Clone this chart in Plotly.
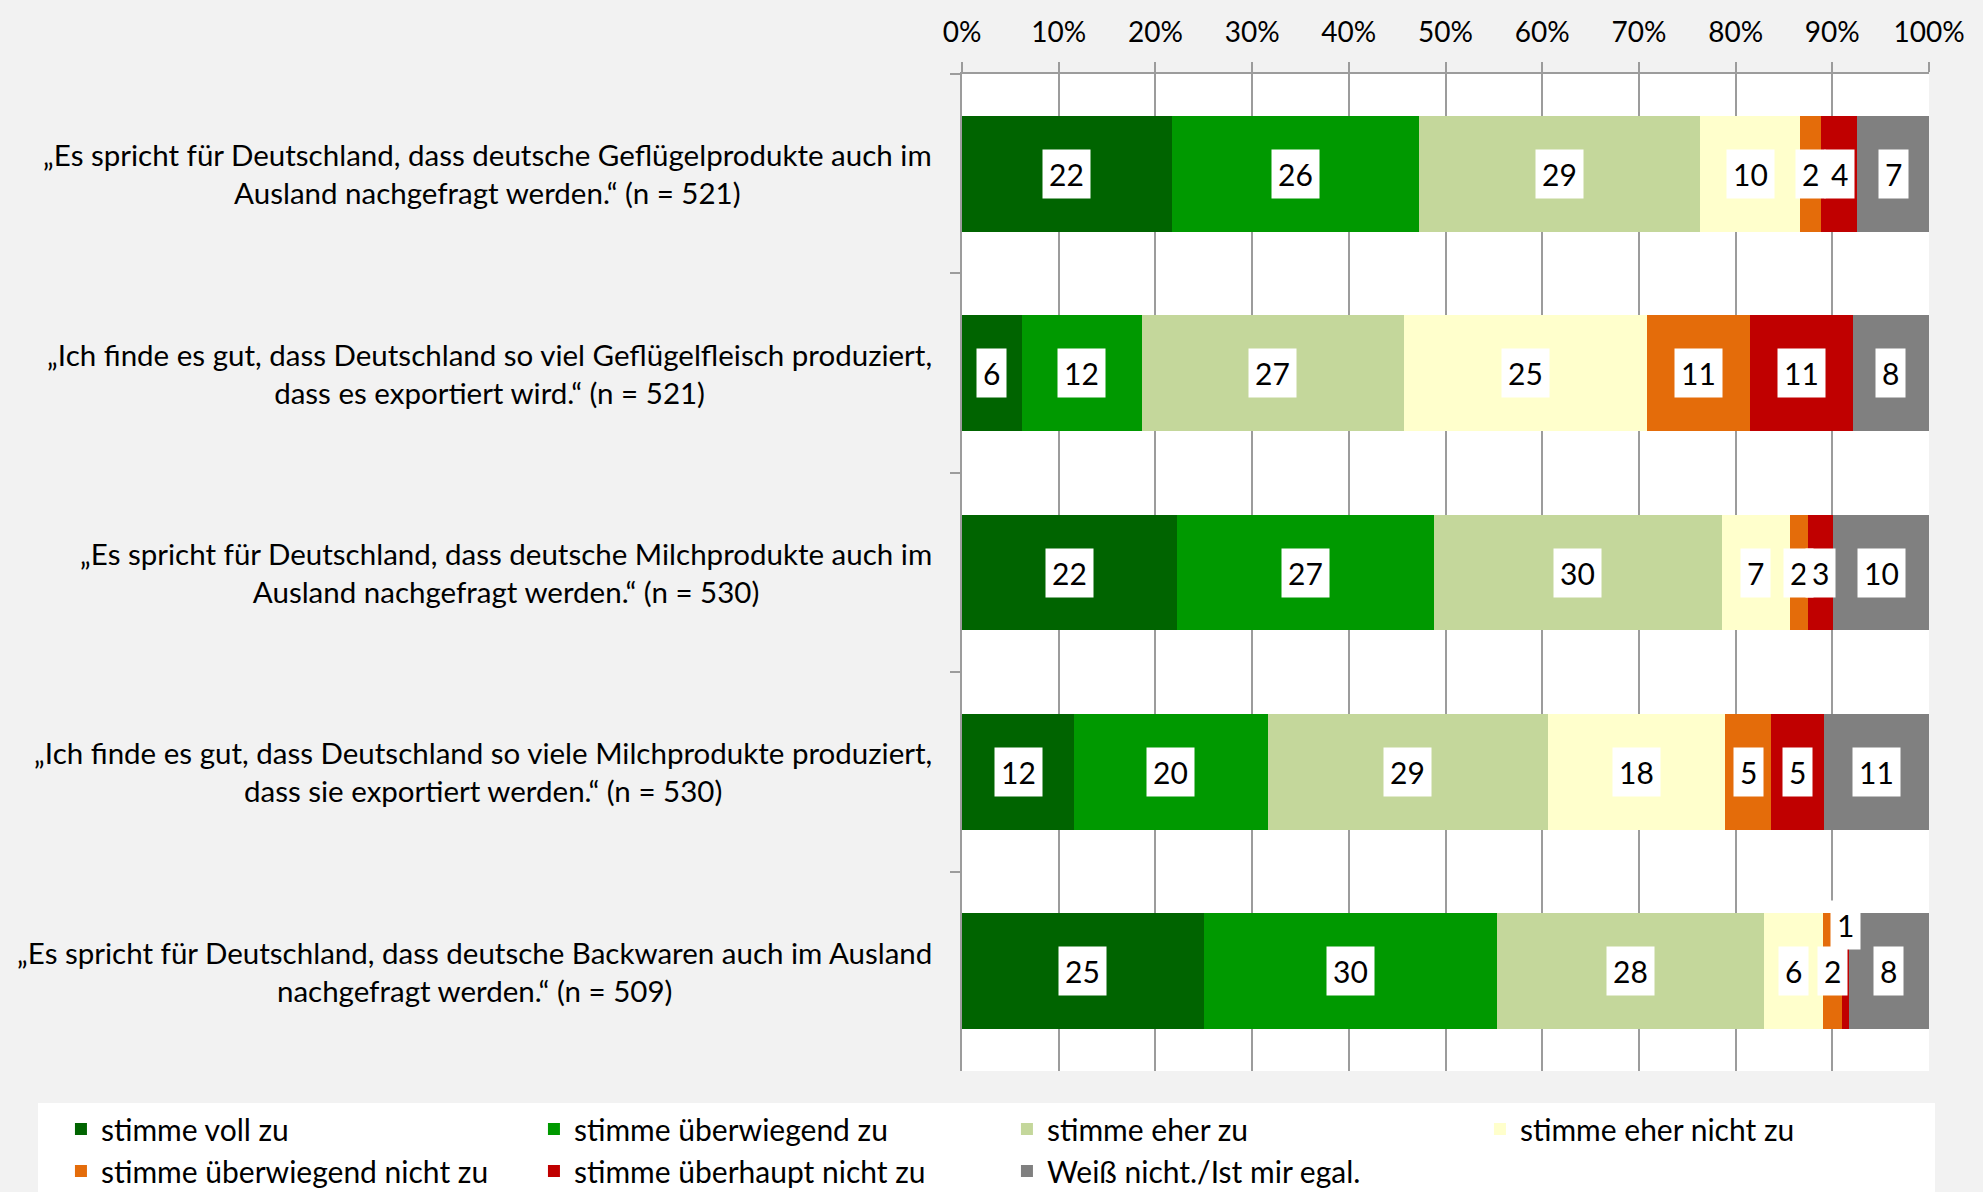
import plotly.graph_objects as go

# ---------------------------------------------------------------------------
# data (shares in %)

statements = [
    "„Es spricht für Deutschland, dass deutsche Geflügelprodukte auch im<br>Ausland nachgefragt werden.“ (n = 521)",
    "„Ich finde es gut, dass Deutschland so viel Geflügelfleisch produziert,<br>dass es exportiert wird.“ (n = 521)",
    "„Es spricht für Deutschland, dass deutsche Milchprodukte auch im<br>Ausland nachgefragt werden.“ (n = 530)",
    "„Ich finde es gut, dass Deutschland so viele Milchprodukte produziert,<br>dass sie exportiert werden.“ (n = 530)",
    "„Es spricht für Deutschland, dass deutsche Backwaren auch im Ausland<br>nachgefragt werden.“ (n = 509)",
]

voll_zu            = [21.7, 6.2, 22.2, 11.6, 25.0]
ueberwiegend_zu    = [25.6, 12.4, 26.6, 20.0, 30.3]
eher_zu            = [29.0, 27.1, 29.8, 29.0, 27.6]
eher_nicht_zu      = [10.4, 25.1, 7.0, 18.3, 6.1]
ueberw_nicht_zu    = [2.1, 10.7, 1.9, 4.8, 2.0]
ueberhaupt_nicht   = [3.8, 10.6, 2.6, 5.4, 0.7]
weiss_nicht        = [7.4, 7.9, 9.9, 10.9, 8.3]

series_names = [
    "stimme voll zu",
    "stimme überwiegend zu",
    "stimme eher zu",
    "stimme eher nicht zu",
    "stimme überwiegend nicht zu",
    "stimme überhaupt nicht zu",
    "Weiß nicht./Ist mir egal.",
]
series_values = [voll_zu, ueberwiegend_zu, eher_zu, eher_nicht_zu,
                 ueberw_nicht_zu, ueberhaupt_nicht, weiss_nicht]
series_colors = ["#006400", "#009900", "#C4D79B", "#FFFFCC",
                 "#E46C0A", "#C00000", "#808080"]

tick_vals = list(range(0, 101, 10))
tick_text = [f"{v}%" for v in tick_vals]

#------------------------------------------------------------------------------

FONT = "Lato"
GRID = "#9c9c9c"

fig = go.Figure()

for name, vals, col in zip(series_names, series_values, series_colors):
    fig.add_trace(go.Bar(
        x = vals,
        y = statements,
        name = name,
        orientation = "h",
        width = 0.58,
        marker = dict(color = col, line = dict(width = 0)),
        hoverinfo = "skip",
    ))

# white value boxes in the middle of each segment
annotations = []
start = [0.0] * len(statements)
for vals in series_values:
    for i, v in enumerate(vals):
        annotations.append(dict(
            x = start[i] + v / 2,
            y = statements[i],
            xref = "x", yref = "y",
            text = f"{v:.0f}",
            showarrow = False,
            bgcolor = "white",
            borderpad = 6,
            font = dict(family = FONT, size = 30, color = "black"),
            yshift = 46 if v < 1 else 0,
        ))
        start[i] += v

# category labels, lines centred, right-aligned to the axis
for s in statements:
    annotations.append(dict(
        x = 0, y = s,
        xref = "paper", yref = "y",
        xanchor = "right",
        xshift = -28,
        align = "center",
        text = s,
        showarrow = False,
        font = dict(family = FONT, size = 29.5, color = "black"),
    ))

fig.update_layout(
    width = 1983,
    height = 1192,
    barmode = "stack",
    paper_bgcolor = "#F2F2F2",
    plot_bgcolor = "white",
    font = dict(family = FONT, size = 28, color = "black"),
    margin = dict(l = 962, r = 54, t = 74, b = 121, pad = 0, autoexpand = False),
    annotations = annotations,
    # white legend panel
    shapes = [dict(
        type = "rect", xref = "paper", yref = "paper",
        x0 = -0.9555, x1 = 1.0062, y0 = -0.0321, y1 = -0.2,
        fillcolor = "white", line = dict(width = 0), layer = "below",
    )],
    showlegend = True,
    legend = dict(
        orientation = "h",
        x = -0.9318, xanchor = "left",
        y = -0.0321, yanchor = "top",
        bgcolor = "rgba(0,0,0,0)",
        entrywidth = 428,
        entrywidthmode = "pixels",
        traceorder = "normal",
        font = dict(family = FONT, size = 30, color = "black"),
    ),
    xaxis = dict(
        side = "top",
        range = [0, 100],
        tickvals = tick_vals,
        ticktext = tick_text,
        showgrid = True,
        gridcolor = GRID,
        gridwidth = 1.5,
        zeroline = False,
        showline = True,
        linecolor = GRID,
        linewidth = 1.5,
        ticks = "outside",
        ticklen = 10,
        tickcolor = GRID,
        tickwidth = 1.5,
        ticklabelstandoff = 9,
        tickfont = dict(family = FONT, size = 28, color = "black"),
    ),
    yaxis = dict(
        autorange = "reversed",
        showticklabels = False,
        showgrid = False,
        zeroline = False,
        showline = True,
        linecolor = GRID,
        linewidth = 1.5,
        ticks = "outside",
        tickson = "boundaries",
        ticklen = 10,
        tickcolor = GRID,
        tickwidth = 1.5,
    ),
)

fig.write_html("out.html",
               config = {"displayModeBar": False},
               post_script = "document.body.style.margin = '0px';")
